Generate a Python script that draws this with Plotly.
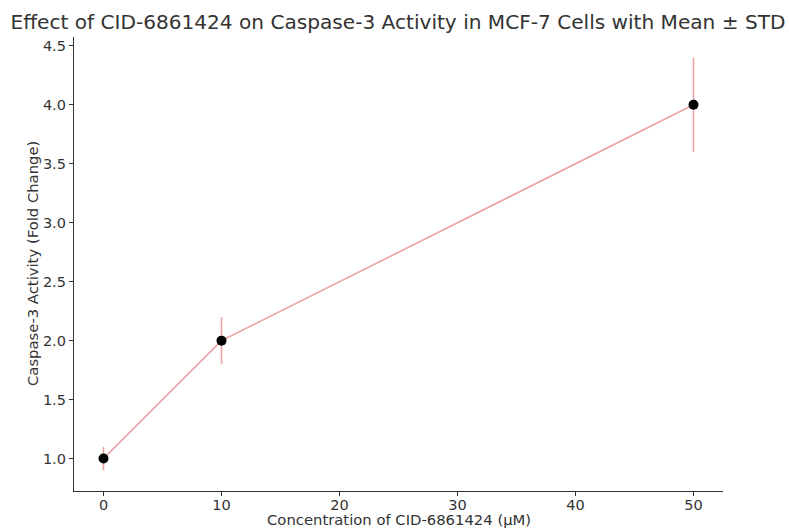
import plotly.graph_objects as go

concentrations = [0, 10, 50]
mean_activity = [1.0, 2.0, 4.0]
std_activity = [0.1, 0.2, 0.4]
x_ticks = [0, 10, 20, 30, 40, 50]
y_ticks = [1.0, 1.5, 2.0, 2.5, 3.0, 3.5, 4.0, 4.5]

line_color = "#e9a3a3"
text_color = "#333333"
font_family = "DejaVu Sans"
W, H = 789, 528
L, R, T, B = 74, 66, 37, 37

fig = go.Figure()
fig.add_trace(go.Scatter(
    x=concentrations, y=mean_activity,
    mode="lines",
    line=dict(color=line_color, width=1.6),
    error_y=dict(type="data", array=std_activity, visible=True,
                 color=line_color, thickness=1.6, width=0),
    showlegend=False, hoverinfo="skip",
))
fig.add_trace(go.Scatter(
    x=concentrations, y=mean_activity,
    mode="markers",
    marker=dict(color="black", size=10),
    showlegend=False,
))

fig.update_layout(
    width=W, height=H,
    margin=dict(l=L, r=R, t=T, b=B, autoexpand=False),
    paper_bgcolor="white", plot_bgcolor="white",
    font=dict(family=font_family, color=text_color, size=14),
    title=dict(text="Effect of CID-6861424 on Caspase-3 Activity in MCF-7 Cells with Mean ± STD",
               x=398 / W, xanchor="center", y=1 - 22 / H, yanchor="middle",
               font=dict(size=20.1, color=text_color, family=font_family)),
    annotations=[
        dict(text="Concentration of CID-6861424 (µM)", xref="paper", yref="paper",
             x=0.5, y=-(519 - (H - B)) / (H - T - B), xanchor="center", yanchor="middle",
             showarrow=False, borderpad=0, font=dict(size=14.8, color=text_color)),
        dict(text="Caspase-3 Activity (Fold Change)", xref="paper", yref="paper",
             x=-(L - 32) / (W - L - R), y=0.5, xanchor="center", yanchor="middle",
             textangle=-90, showarrow=False, borderpad=0, font=dict(size=14.8, color=text_color)),
    ],
)
fig.update_xaxes(
    range=[-2.5, 52.5], tickvals=x_ticks, ticktext=[str(v) for v in x_ticks],
    showline=True, linecolor="#333333", linewidth=1.3,
    ticks="outside", ticklen=4, tickcolor="#333333", tickwidth=1,
    showgrid=False, zeroline=False,
    tickfont=dict(size=14.5), ticklabelstandoff=-4,
)
fig.update_yaxes(
    range=[0.725, 4.575], tickvals=y_ticks, ticktext=[f"{v:.1f}" for v in y_ticks],
    showline=True, linecolor="#333333", linewidth=1.3,
    ticks="outside", ticklen=4, tickcolor="#333333", tickwidth=1,
    showgrid=False, zeroline=False,
    tickfont=dict(size=14.5),
)

fig.write_html("out.html", config={"displayModeBar": False},
               post_script="document.body.style.margin='0';")
